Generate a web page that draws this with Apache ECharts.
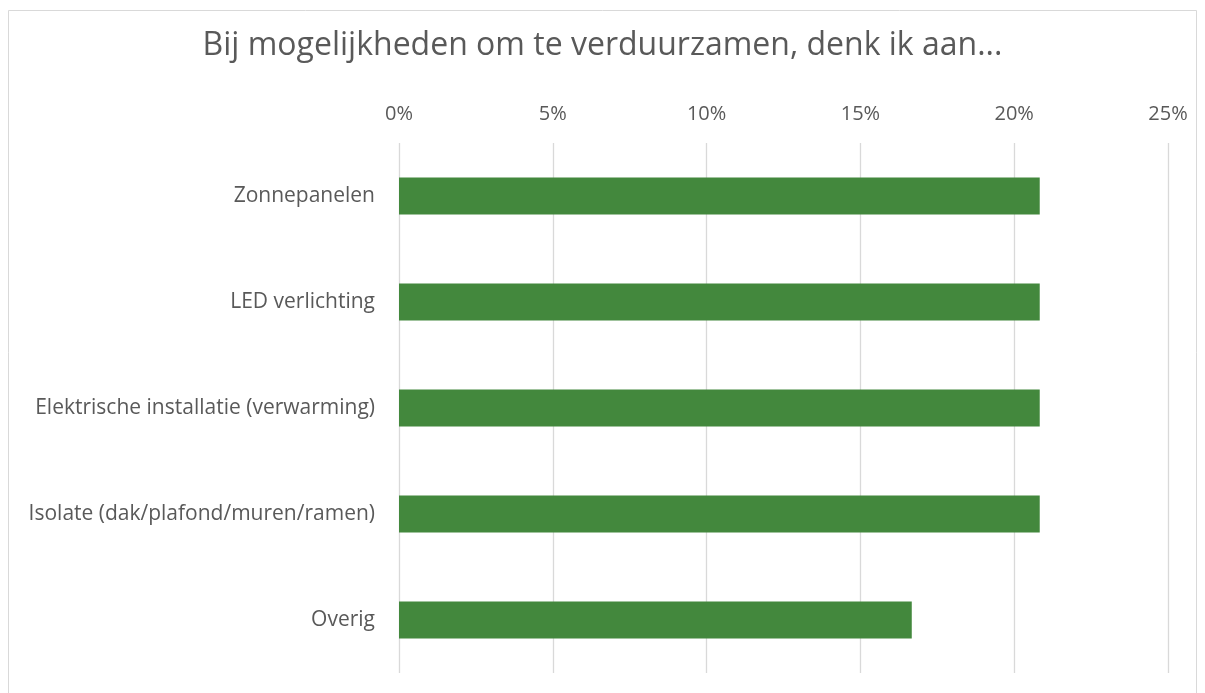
<!DOCTYPE html>
<html>
<head>
<meta charset="utf-8">
<script src="https://cdn.jsdelivr.net/npm/echarts@6/dist/echarts.min.js"></script>
<style>
  html, body { margin: 0; padding: 0; background: #fff; }
  #view { width: 1205px; height: 693px; }
</style>
</head>
<body>
<div id="view"></div>
<script>
var myChart = echarts.init(document.getElementById('view'));

/* data */
var categories = ['Zonnepanelen', 'LED verlichting', 'Elektrische installatie (verwarming)', 'Isolate (dak/plafond/muren/ramen)', 'Overig'];
var values = [20.83, 20.83, 20.83, 20.83, 16.67];   // percent
var titleText = 'Bij mogelijkheden om te verduurzamen, denk ik aan...';

var textColor = '#595959';
var font = '"Open Sans", "Noto Sans", sans-serif';

var option = {
    backgroundColor: '#fff',
    // outer frame of the chart area
    graphic: [{
        type: 'rect',
        shape: { x: 8.5, y: 10.5, width: 1188, height: 700 },
        style: { fill: 'none', stroke: '#d9d9d9', lineWidth: 1 },
        silent: true
    }],
    title: {
        text: titleText,
        left: 'center',
        top: 25,
        textStyle: {
            fontFamily: font,
            fontSize: 32,
            fontWeight: 'normal',
            color: textColor
        }
    },
    grid: {
        left: 399,
        right: 37,
        top: 143,
        bottom: 20,
        containLabel: false
    },
    xAxis: {
        type: 'value',
        position: 'top',
        min: 0,
        max: 25,
        interval: 5,
        axisLine: { show: false },
        axisTick: { show: false },
        axisLabel: {
            formatter: '{value}%',
            color: textColor,
            fontFamily: font,
            fontSize: 20,
            margin: 19
        },
        splitLine: { lineStyle: { color: '#d9d9d9', width: 1.3 } }
    },
    yAxis: {
        type: 'category',
        data: categories,
        inverse: true,
        axisLine: { show: false },
        axisTick: { show: false },
        axisLabel: {
            color: textColor,
            fontFamily: font,
            fontSize: 21,
            margin: 24
        }
    },
    series: [{
        type: 'bar',
        data: values,
        barWidth: 37,
        itemStyle: { color: '#43883d' },
        silent: true
    }]
};

myChart.setOption(option);
</script>
</body>
</html>
